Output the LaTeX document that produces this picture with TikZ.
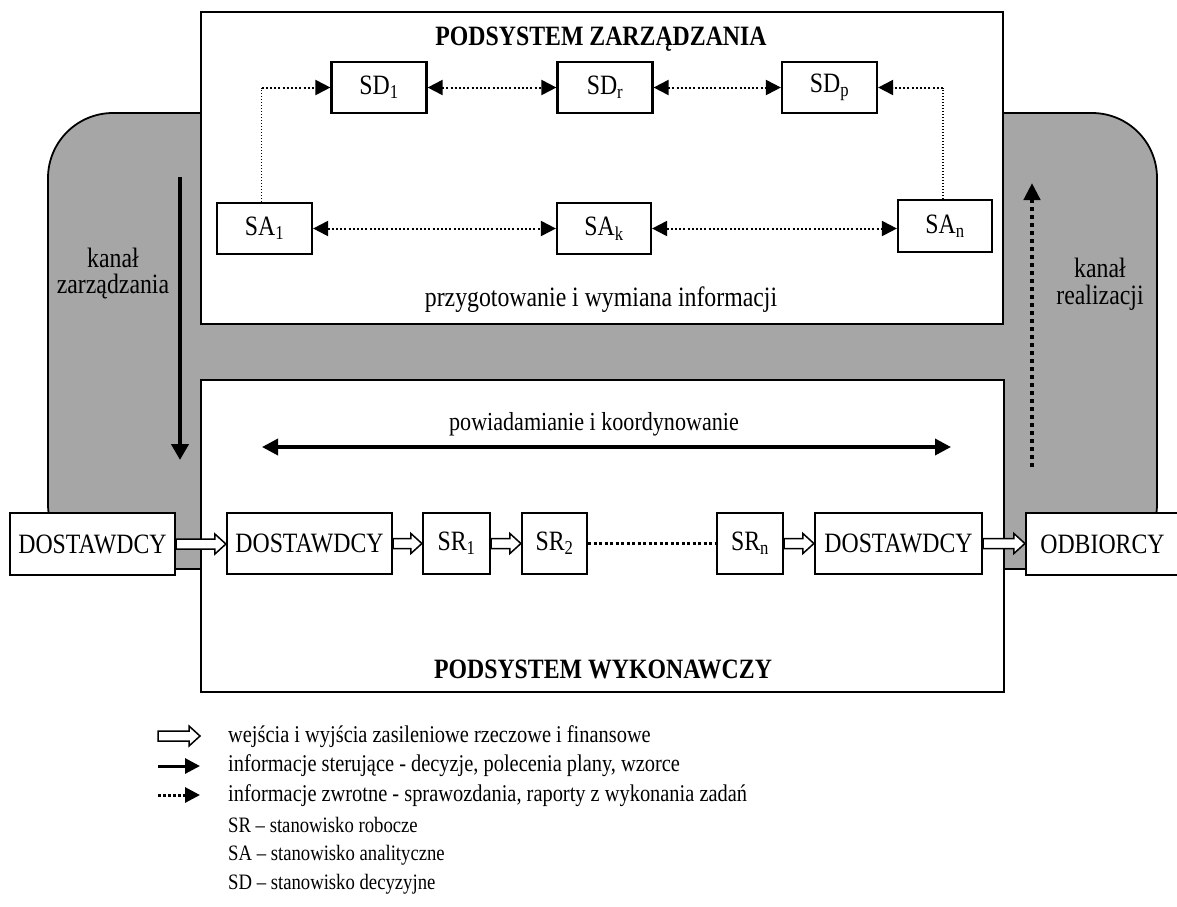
\documentclass[tikz,border=0pt]{standalone}
\usepackage{fontspec}
\setmainfont{Liberation Serif}[FakeStretch=0.85]
\usetikzlibrary{arrows.meta,calc}
\definecolor{channelgray}{RGB}{166,166,166}
\newcommand\diagfont{\fontsize{28}{30}\selectfont}
\newcommand\midfont{\fontsize{26}{30}\selectfont}
\newcommand\leftchannelfont{\fontsize{28}{26}\selectfont}
\newcommand\rightchannelfont{\fontsize{28}{27}\selectfont}
\newcommand\legendfont{\fontsize{22}{26}\selectfont}
\newcommand\legendbigfont{\fontsize{24}{26}\selectfont}
% white block arrow between two points on the same height
\newcommand\flowarrow[2]{%
  \draw[flow] let \p1=#1, \p2=#2 in
    (\x1,\y1+5pt) -- (\x2-11pt,\y1+5pt) -- (\x2-11pt,\y1+10pt) -- (\x2,\y1)
    -- (\x2-11pt,\y1-10pt) -- (\x2-11pt,\y1-5pt) -- (\x1,\y1-5pt) -- cycle;}
\tikzset{
  channel/.style={draw, line width=1.8pt, fill=channelgray, rounded corners=65pt},
  panel/.style={draw, line width=1.8pt, fill=white, inner sep=0pt},
  station/.style={draw, line width=2.2pt, fill=white, inner sep=0pt, font=\diagfont},
  txt/.style={inner sep=0pt, font=\diagfont},
  heading/.style={inner sep=0pt, font=\diagfont\bfseries},
  legtxt/.style={inner sep=0pt, anchor=west, font=\legendfont},
  flow/.style={draw, line width=1.5pt, fill=white, line join=miter},
  infolink/.style={line width=2pt, dash pattern=on 2pt off 2.2pt},
  thinlink/.style={line width=1.2pt, dash pattern=on 1.2pt off 1.8pt},
  control/.style={line width=4.5pt, >={Triangle[length=16pt,width=17pt]}},
  feedback/.style={line width=4.5pt, dash pattern=on 4.5pt off 3.5pt, >={Triangle[length=17pt,width=16pt]}},
  coord/.style={line width=3.5pt, >={Triangle[length=16pt,width=16pt]}},
  rowdots/.style={line width=3pt, dash pattern=on 3pt off 2.5pt},
}
\begin{document}
\begin{tikzpicture}[x=1pt,y=-1pt,>={Triangle[length=15pt,width=15pt]}]
\useasboundingbox (0,0) rectangle (1177,906);

% grey channel behind both subsystems
\draw[channel] (48,113) rectangle (1157,569);

% the two subsystems
\node[panel, minimum width=802pt, minimum height=312pt] (zp) at (602,168) {};
\node[panel, minimum width=803pt, minimum height=312pt] (wp) at (602.5,536) {};

\node[heading] (zt) at (601,39) {PODSYSTEM ZARZĄDZANIA};
\node[heading] (wt) at (603,669) {PODSYSTEM WYKONAWCZY};
\node[txt] (pi) at (601,300) {przygotowanie i wymiana informacji};
\node[txt, font=\midfont] (pk) at (594,424) {powiadamianie i koordynowanie};

% decision and analytic stations
\node[station, minimum width=95pt, minimum height=51pt] (SD1) at (379,87.5) {SD\textsubscript{1}};
\node[station, minimum width=95pt, minimum height=51pt] (SDr) at (605,87.5) {SD\textsubscript{r}};
\node[station, minimum width=95pt, minimum height=51pt] (SDp) at (829.5,87.5) {SD\textsubscript{p}};
\node[station, minimum width=95pt, minimum height=51pt] (SA1) at (264.5,228.5) {SA\textsubscript{1}};
\node[station, minimum width=94pt, minimum height=51pt] (SAk) at (604,228.5) {SA\textsubscript{k}};
\node[station, minimum width=94pt, minimum height=52pt] (SAn) at (945,226) {SA\textsubscript{n}};

\draw[infolink,<->] (SD1) -- (SDr);
\draw[infolink,<->] (SDr) -- (SDp);
\draw[infolink,<->] (SA1) -- (SAk);
\draw[infolink,<->] (SAk.east) -- (SAk.east -| SAn.west);

\coordinate (a1) at ([xshift=-3pt]SA1.north);
\coordinate (an) at ([xshift=-2pt]SAn.north);
\coordinate (c1) at (a1 |- SD1.west);
\coordinate (c2) at (an |- SDp.east);
\draw[thinlink] (a1) -- (c1);
\draw[infolink,->] (c1) -- (SD1.west);
\draw[thinlink] (an) -- (c2);
\draw[infolink,->] (c2) -- (SDp.east);

% flow of goods
\node[station, minimum width=165pt, minimum height=62pt] (DL) at (92.5,544) {DOSTAWDCY};
\node[station, minimum width=165pt, minimum height=61pt] (D1) at (309.5,543.5) {DOSTAWDCY};
\node[station, minimum width=67pt, minimum height=61pt] (SR1) at (456.5,543.5) {SR\textsubscript{1}};
\node[station, minimum width=65pt, minimum height=61pt] (SR2) at (554.5,543.5) {SR\textsubscript{2}};
\node[station, minimum width=66pt, minimum height=61pt] (SRn) at (750,543.5) {SR\textsubscript{n}};
\node[station, minimum width=167pt, minimum height=61pt] (D2) at (898.5,543.5) {DOSTAWDCY};
\node[station, minimum width=153pt, minimum height=62pt] (OD) at (1102.5,544) {ODBIORCY};

\flowarrow{(DL.east)}{(D1.west)}
\flowarrow{(D1.east)}{(SR1.west)}
\flowarrow{(SR1.east)}{(SR2.west)}
\flowarrow{(SRn.east)}{(D2.west)}
\flowarrow{(D2.east)}{(OD.west)}
\draw[rowdots] (SR2) -- (SRn);

% coordination arrow
\coordinate (pa) at (262,447);
\coordinate (pb) at (951,447);
\draw[coord,<->] (pa) -- (pb);

% channels
\coordinate (kz1) at (180,177);
\coordinate (kz2) at (180,460);
\draw[control,->] (kz1) -- (kz2);
\node[txt, align=center, font=\leftchannelfont] (kzt) at (113,274) {kanał\\zarządzania};
\coordinate (kr1) at (1032,467);
\coordinate (kr2) at (1032,183);
\draw[feedback,->] (kr1) -- (kr2);
\node[txt, align=center, font=\rightchannelfont] (krt) at (1100,284) {kanał\\realizacji};

% legend
\coordinate (l1a) at (158,736);
\coordinate (l1b) at (200,736);
\flowarrow{(l1a)}{(l1b)}
\coordinate (l2a) at (158,766);
\coordinate (l2b) at (200,766);
\draw[line width=3pt,->] (l2a) -- (l2b);
\coordinate (l3a) at (158,795);
\coordinate (l3b) at (200,795);
\draw[line width=3pt, dash pattern=on 3pt off 2pt,->] (l3a) -- (l3b);
\node[legtxt, font=\legendbigfont] (lt1) at (228,737) {wejścia i wyjścia zasileniowe rzeczowe i finansowe};
\node[legtxt, font=\legendbigfont] (lt2) at (228,766) {informacje sterujące - decyzje, polecenia plany, wzorce};
\node[legtxt, font=\legendbigfont] (lt3) at (228,796) {informacje zwrotne - sprawozdania, raporty z wykonania zadań};
\node[legtxt] (lt4) at (228,825) {SR – stanowisko robocze};
\node[legtxt] (lt5) at (228,855) {SA – stanowisko analityczne};
\node[legtxt] (lt6) at (228,884) {SD – stanowisko decyzyjne};
\end{tikzpicture}
\end{document}
